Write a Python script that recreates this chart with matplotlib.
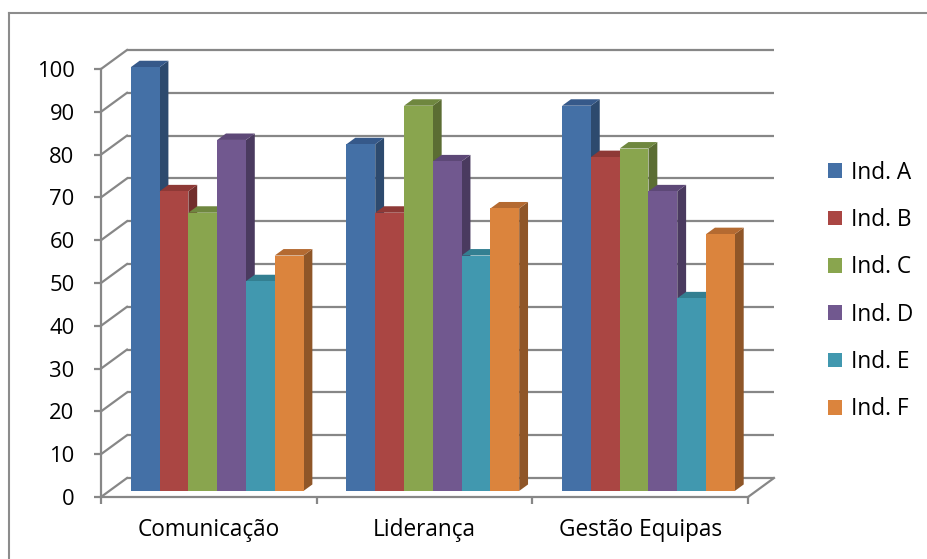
import matplotlib
matplotlib.use("Agg")
import matplotlib.pyplot as plt
from matplotlib.patches import Polygon, Patch
from matplotlib.lines import Line2D

categories = ["Comunicação", "Liderança", "Gestão Equipas"]
series = ["Ind. A", "Ind. B", "Ind. C", "Ind. D", "Ind. E", "Ind. F"]
values = {
    "Ind. A": [99, 81, 90],
    "Ind. B": [70, 65, 78],
    "Ind. C": [65, 90, 80],
    "Ind. D": [82, 77, 70],
    "Ind. E": [49, 55, 45],
    "Ind. F": [55, 66, 60],
}
yticks = list(range(0, 101, 10))

front = ["#4470A6", "#AA4643", "#89A54E", "#71588F", "#4198AF", "#DB843D"]
side = ["#2D4A6E", "#722E2C", "#5B6D33", "#4A3A5F", "#2B6574", "#8F5628"]
top = ["#36598A", "#8E3936", "#6F873F", "#5D4877", "#337F91", "#B46A31"]

W, H, DPI = 927, 559, 100
plt.rcParams['font.family'] = ['Open Sans', 'DejaVu Sans']
FS = 16.3
fig = plt.figure(figsize=(W / DPI, H / DPI), dpi=DPI)

# chart frame
fig.add_artist(Line2D([9 / W, 9 / W], [0, 1 - 13 / H], transform=fig.transFigure, color="#8c8c8c", lw=1.5))
fig.add_artist(Line2D([9 / W, 1], [1 - 13 / H, 1 - 13 / H], transform=fig.transFigure, color="#8c8c8c", lw=1.5))

x0, x1, y0, y1 = 101, 748, 497, 69
ax = fig.add_axes([x0 / W, 1 - y0 / H, (x1 - x0) / W, (y0 - y1) / H])
n = len(categories)
ax.set_xlim(0, n)
ax.set_ylim(0, 100)
ax.set_facecolor("none")

px_x = (x1 - x0) / n      # px per x unit
px_y = (y0 - y1) / 100.0  # px per y unit
DX = 26 / px_x
DY = 19 / px_y

gc = "#878787"
glw = 1.6
# back wall gridlines and side wall diagonals
for v in yticks:
    ax.plot([DX, n + DX], [v + DY, v + DY], color=gc, lw=glw, clip_on=False, zorder=1, solid_capstyle="butt")
    ax.plot([0, DX], [v, v + DY], color=gc, lw=glw, clip_on=False, zorder=1)
# floor right diagonal
ax.plot([n, n + DX], [0, DY], color=gc, lw=glw, clip_on=False, zorder=1)

# spines / ticks
for s in ["top", "right"]:
    ax.spines[s].set_visible(False)
for s in ["left", "bottom"]:
    ax.spines[s].set_color(gc)
    ax.spines[s].set_linewidth(glw)
ax.set_yticks(yticks)
ax.set_yticklabels([str(v) for v in yticks], fontsize=FS - 0.5)
ax.set_xticks(range(n + 1))
ax.set_xticklabels([])
ax.set_xticks([i + 0.5 for i in range(n)], minor=True)
ax.set_xticklabels(categories, minor=True, fontsize=FS)
ax.tick_params(axis="y", length=5, width=glw, color=gc, pad=14, labelcolor="black")
ax.tick_params(axis="x", which="major", length=5, width=glw, color=gc)
ax.tick_params(axis="x", which="minor", length=0, pad=15, labelcolor="black")

# bars (pseudo 3D)
f0, f1 = 0.32, 0.66
bw = 0.1335
for j, s in enumerate(series):
    for i in range(n):
        v = values[s][i]
        xl = i + 0.5 + (j - 3) * bw
        xr = xl + bw
        a0x, a0y = f0 * DX, f0 * DY
        a1x, a1y = f1 * DX, f1 * DY
        sidep = Polygon([(xr + a0x, a0y), (xr + a1x, a1y), (xr + a1x, v + a1y), (xr + a0x, v + a0y)],
                        closed=True, facecolor=side[j], edgecolor="none", zorder=3 + j * 0.01, clip_on=False)
        topp = Polygon([(xl + a0x, v + a0y), (xr + a0x, v + a0y), (xr + a1x, v + a1y), (xl + a1x, v + a1y)],
                       closed=True, facecolor=top[j], edgecolor="none", zorder=3 + j * 0.01 + 0.001, clip_on=False)
        ax.add_patch(sidep)
        ax.add_patch(topp)
        ax.bar(xl + a0x, v, width=bw, bottom=a0y, align="edge", color=front[j],
               zorder=3 + j * 0.01 + 0.002, clip_on=False, linewidth=0)

handles = [Patch(facecolor=front[j], edgecolor="none") for j in range(len(series))]
fig.legend(handles, series, loc="center left", bbox_to_anchor=(808 / W, 1 - 291 / H), frameon=False,
           fontsize=FS, handlelength=0.62, handleheight=0.62, handletextpad=0.38, labelspacing=1.03)

fig.savefig("out.png", dpi=DPI)
